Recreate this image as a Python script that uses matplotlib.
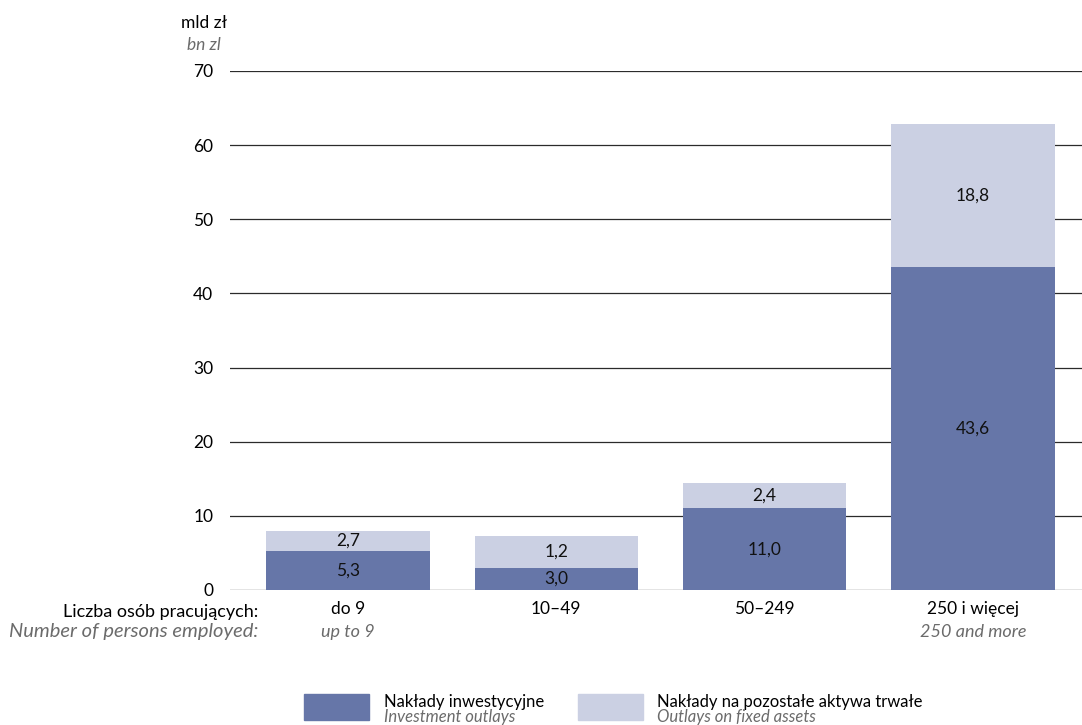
import matplotlib.pyplot as plt
from matplotlib.patches import Rectangle
from matplotlib.transforms import blended_transform_factory

# data
categories_pl = ["do 9", "10\u201349", "50\u2013249", "250 i więcej"]
categories_en = ["up to 9", "", "", "250 and more"]
investment = [5.3, 3.0, 11.0, 43.6]          # drawn height of dark segment
other_assets = [2.65, 4.25, 3.4, 19.3]       # drawn height of light segment
investment_labels = ["5,3", "3,0", "11,0", "43,6"]
other_labels = ["2,7", "1,2", "2,4", "18,8"]
yticks = [0, 10, 20, 30, 40, 50, 60, 70]

dark = "#6676a8"
light = "#cbd0e3"
grey_txt = "#6b6b6b"

plt.rcParams['font.family'] = ['Lato', 'DejaVu Sans']

fig = plt.figure(figsize=(10.82, 7.25), dpi=100)
ax = fig.add_axes([230 / 1082, 1 - 590 / 725, 1 - 230 / 1082, (590 - 71) / 725])

x = list(range(len(categories_pl)))
w = 0.785
ax.bar(x, investment, width=w, color=dark, zorder=3)
ax.bar(x, other_assets, width=w, bottom=investment, color=light, zorder=3)

for i in x:
    ax.text(i, investment[i] / 2, investment_labels[i], ha="center", va="center",
            fontsize=12.5, color="#111111", zorder=4)
    ax.text(i, investment[i] + other_assets[i] / 2, other_labels[i], ha="center",
            va="center", fontsize=12.5, color="#111111", zorder=4)

ax.set_ylim(0, 70)
ax.set_xlim(-0.567, 3.524)
ax.set_yticks(yticks)
ax.set_yticklabels([str(t) for t in yticks])
for t in yticks:
    ax.axhline(t, color="#2b2b2b", lw=0.9, zorder=1)
for s in ax.spines.values():
    s.set_visible(False)
ax.tick_params(axis="y", length=0, pad=12, labelsize=12.5)
ax.tick_params(axis="x", length=0, pad=8, labelsize=12.5)
ax.set_xticks(x)
ax.set_xticklabels(categories_pl)

trans = blended_transform_factory(ax.transData, fig.transFigure)
for i in x:
    if categories_en[i]:
        fig.text(i, 1 - 632 / 725, categories_en[i], transform=trans, ha="center",
                 va="center", fontsize=13, style="italic", color=grey_txt)

fig.text(258 / 1082, 1 - 612 / 725, "Liczba osób pracujących:", ha="right",
         va="center", fontsize=13)
fig.text(258 / 1082, 1 - 632 / 725, "Number of persons employed:", ha="right",
         va="center", fontsize=14.5, style="italic", color=grey_txt)

fig.text(204 / 1082, 1 - 23 / 725, "mld zł", ha="center", va="center", fontsize=12.5)
fig.text(204 / 1082, 1 - 45 / 725, "bn zl", ha="center", va="center", fontsize=12.5,
         style="italic", color=grey_txt)

# legend
legend_items = [("Nakłady inwestycyjne", "Investment outlays", dark, 304, 384),
                ("Nakłady na pozostałe aktywa trwałe", "Outlays on fixed assets", light, 578, 657)]
for pl, en, col, px, tx in legend_items:
    fig.patches.append(Rectangle((px / 1082, 1 - 720 / 725), 65 / 1082, 26 / 725,
                                 transform=fig.transFigure, color=col))
    fig.text(tx / 1082, 1 - 702 / 725, pl, ha="left", va="center", fontsize=12)
    fig.text(tx / 1082, 1 - 717 / 725, en, ha="left", va="center", fontsize=12,
             style="italic", color=grey_txt)

fig.savefig("out.png", dpi=100)
